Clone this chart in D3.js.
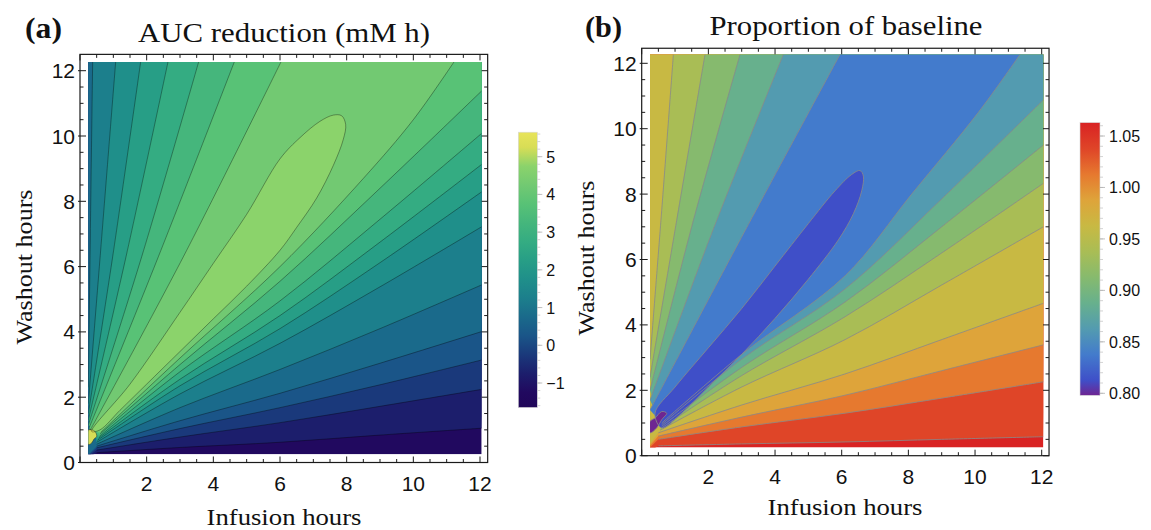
<!DOCTYPE html>
<html><head><meta charset="utf-8">
<script src="https://cdn.jsdelivr.net/npm/d3@7"></script>
<style>body{margin:0;background:#fff;}svg{display:block}</style>
</head><body><svg id="chart" width="1151" height="530"></svg>
<script>
// ================= DATA =================
const xTickValues = [2, 4, 6, 8, 10, 12];
const yTickValues = [0, 2, 4, 6, 8, 10, 12];
const dataExtentX = [0.25, 12.05];
const dataExtentY = [0.25, 12.27];

// ---- Panel (a): AUC reduction (mM h), contour spacing 0.5 ----
const legendTicksA = [-1, 0, 1, 2, 3, 4, 5];
const legendRangeA = [-1.65, 5.65];
const baseLevelA = -1.5;
const lowerLevelsA = [-1, -0.5, 0, 0.5, 1, 1.5, 2, 2.5, 3, 3.5, 4];
const lowerLinesA = [
  [[0.5,0.30],[3,0.46],[6,0.62],[9,0.84],[12.05,1.05]],
  [[0.5,0.38],[3,0.78],[6,1.22],[9,1.72],[12.05,2.24]],
  [[0.5,0.45],[3,1.04],[6,1.68],[9,2.38],[12.05,3.14]],
  [[0.5,0.50],[3,1.28],[6,2.12],[9,3.04],[12.05,4.01]],
  [[0.5,0.56],[3,1.68],[6,2.85],[9,4.10],[12.05,5.44]],
  [[0.5,0.62],[3,2.10],[6,3.65],[9,5.38],[12.05,7.22]],
  [[0.52,0.68],[3,2.35],[6,4.10],[9,6.12],[12.05,8.29]],
  [[0.55,0.74],[3,2.55],[6,4.50],[9,6.75],[12.05,9.13]],
  [[0.58,0.80],[3,2.78],[6,4.95],[9,7.45],[12.05,10.08]],
  [[0.60,0.87],[3,3.00],[6,5.55],[9,8.40],[12.05,11.38]],
  [[0.62,0.92],[3,3.20],[6,6.00],[8.5,8.70],[10,10.50],[11.22,12.27]]
];
const upperLevelsA = [1, 1.5, 2, 2.5, 3, 3.5, 4];
const upperLinesA = [
  [[0.25,2.30],[0.31,7.0],[0.38,12.27]],
  [[0.25,1.80],[0.62,6.5],[1.07,12.27]],
  [[0.25,1.50],[0.98,6.3],[1.82,12.27]],
  [[0.25,1.30],[1.38,6.3],[2.64,12.27]],
  [[0.25,1.15],[1.85,6.3],[3.56,12.27]],
  [[0.27,1.05],[2.35,6.3],[4.63,12.27]],
  [[0.30,0.98],[3.10,6.3],[6.03,12.27]]
];
const islandLevelA = 4.5;
const islandA = [[0.35,0.95],[1.5,2.4],[3,4.6],[4,6.1],[5,7.6],[6,9.3],[6.6,9.95],[7.2,10.45],[7.6,10.64],
  [7.85,10.62],[7.97,10.35],[7.9,9.9],[7.6,9.1],[7.1,8.1],[6.5,7.2],[6,6.5],[5,5.4],[4,4.4],[3,3.4],[2,2.4],[1.2,1.6],[0.6,1.0]];
const peakLevelA = 5;
const peakA = [[0.25,0.55],[0.35,0.6],[0.42,0.72],[0.5,0.8],[0.45,0.95],[0.35,1.0],[0.25,1.0]];

// ---- Panel (b): proportion of baseline, contour spacing 0.025 ----
const legendTicksB = [0.80, 0.85, 0.90, 0.95, 1.00, 1.05];
const legendRangeB = [0.798, 1.063];
const baseLevelB = 1.075;
const lowerLevelsB = [1.05, 1.025, 1.0, 0.975, 0.95, 0.925, 0.9, 0.875, 0.85];
const lowerLinesB = [
  [[0.5,0.30],[3,0.36],[6.1,0.42],[9,0.50],[12.05,0.58]],
  [[0.5,0.50],[3,0.88],[6.1,1.30],[9,1.76],[12.05,2.26]],
  [[0.5,0.60],[3,1.18],[6.1,1.85],[9,2.60],[12.05,3.39]],
  [[0.5,0.70],[3,1.55],[6.1,2.50],[9,3.55],[12.05,4.66]],
  [[0.55,0.78],[3,2.10],[6.1,3.55],[9,5.22],[12.05,7.00]],
  [[0.6,0.85],[3,2.45],[6.1,4.25],[9,6.20],[12.05,8.33]],
  [[0.6,0.90],[3,2.70],[6.1,4.70],[9,7.00],[12.05,9.50]],
  [[0.6,0.95],[3,2.95],[6.1,5.10],[9,7.85],[12.05,10.88]],
  [[0.6,1.00],[3,3.10],[6.1,5.50],[8.1,8.0],[10.1,10.5],[11.35,12.27]]
];
const upperLevelsB = [0.95, 0.925, 0.9, 0.875, 0.85];
const upperLinesB = [
  [[0.25,2.95],[0.6,7.5],[0.95,12.27]],
  [[0.25,2.40],[1.05,7.2],[1.90,12.27]],
  [[0.25,2.00],[1.5,7.0],[2.95,12.27]],
  [[0.25,1.70],[2.1,6.8],[4.25,12.27]],
  [[0.25,1.40],[2.9,6.5],[5.95,12.27]]
];
const islandLevelB = 0.825;
const islandB = [[0.4,1.3],[1.0,2.1],[2.0,3.3],[3.0,4.5],[4.0,5.8],[5.0,7.1],[5.8,8.1],[6.3,8.6],[6.55,8.72],
  [6.65,8.55],[6.6,8.1],[6.35,7.4],[5.9,6.6],[5.0,5.4],[4.0,4.2],[3.0,3.1],[2.0,2.1],[1.2,1.3],[0.6,0.85]];
const pitLevelB = 0.8;
const pitB = [[0.25,0.7],[0.45,0.85],[0.6,1.1],[0.75,1.3],[0.6,1.35],[0.4,1.15],[0.25,1.05]];

// ================= STYLES =================
const colorStopsA = [[-1.65,"#200658"],[-1.25,"#21095f"],[-0.75,"#1c1e6c"],[-0.25,"#1a397b"],[0.25,"#1a5588"],
  [0.75,"#1a6a8b"],[1.25,"#1c7f8c"],[1.75,"#1f8f8a"],[2.25,"#279e86"],[2.75,"#34ac82"],[3.25,"#45b67c"],
  [3.75,"#58c276"],[4.25,"#72c972"],[4.75,"#8bd36b"],[5.25,"#d8dd56"],[5.65,"#e8e45a"]];
const colorStopsB = [[0.798,"#6e2592"],[0.8125,"#3f4fc8"],[0.8375,"#437bcc"],[0.8625,"#539bb0"],[0.8875,"#67b08d"],
  [0.9125,"#86ba6e"],[0.9375,"#a9bd55"],[0.9625,"#c8b943"],[0.9875,"#dea43a"],[1.0125,"#e6792f"],
  [1.0375,"#df4528"],[1.0625,"#d92323"]];
const colorA = d3.scaleLinear().domain(colorStopsA.map(d=>d[0])).range(colorStopsA.map(d=>d[1])).clamp(true);
const colorB = d3.scaleLinear().domain(colorStopsB.map(d=>d[0])).range(colorStopsB.map(d=>d[1])).clamp(true);

const svg = d3.select("#chart");
const defs = svg.append("defs");
const SANS = "Liberation Sans, Arial, sans-serif";
const SERIF = "Liberation Serif, Times New Roman, serif";

function drawPanel(P) {
  const {id, x, y, frame, bandColor, baseColor, lowerLevels, lowerLines, upperLevels, upperLines,
         island, islandColor, spot, spotColor, lineStroke, lineOpacity} = P;
  const [X0, X1] = dataExtentX, [Y0, Y1] = dataExtentY;
  const g = svg.append("g");
  defs.append("clipPath").attr("id", "clip" + id).append("rect")
    .attr("x", x(X0)).attr("y", y(Y1)).attr("width", x(X1) - x(X0)).attr("height", y(Y0) - y(Y1));
  const gen = d3.line().x(d => x(d[0])).y(d => y(d[1])).curve(d3.curveCatmullRom.alpha(0.5));
  const genClosed = d3.line().x(d => x(d[0])).y(d => y(d[1])).curve(d3.curveCatmullRomClosed.alpha(0.5));
  const body = g.append("g").attr("clip-path", `url(#clip${id})`);
  body.append("rect").attr("x", x(X0)).attr("y", y(Y1)).attr("width", x(X1) - x(X0))
    .attr("height", y(Y0) - y(Y1)).attr("fill", baseColor);
  lowerLevels.forEach((lev, i) => {
    const low = lowerLines[i];
    const ui = upperLevels.indexOf(lev);
    const up = ui >= 0 ? upperLines[ui] : null;
    let d = gen(low);
    const end = low[low.length - 1];
    const pts = [];
    if (end[0] >= X1 - 1e-6) pts.push([X1 + 0.3, Y1 + 0.3]);
    if (!up) pts.push([X0 - 0.3, Y1 + 0.3], [X0 - 0.3, Y0 - 0.3]);
    pts.forEach(c => d += `L${x(c[0])},${y(c[1])}`);
    if (up) d += "L" + gen(up.slice().reverse()).slice(1);
    d += "Z";
    body.append("path").attr("d", d).attr("fill", bandColor(lev));
  });
  body.append("path").attr("d", genClosed(island)).attr("fill", islandColor);
  body.append("path").attr("d", genClosed(spot)).attr("fill", spotColor);
  const lines = body.append("g").attr("fill", "none").attr("stroke", lineStroke)
    .attr("stroke-opacity", lineOpacity).attr("stroke-width", 0.9);
  lowerLines.concat(upperLines).forEach(l => lines.append("path").attr("d", gen(l)));
  lines.append("path").attr("d", genClosed(island));
  lines.append("path").attr("d", genClosed(spot));

  // frame
  const [fx1, fy1] = frame;
  g.append("rect").attr("x", x(0)).attr("y", y(fy1)).attr("width", x(fx1) - x(0)).attr("height", y(0) - y(fy1))
    .attr("fill", "none").attr("stroke", "#1a1a1a").attr("stroke-width", 1.2);
  const minorX = d3.range(0.5, 12.01, 0.5).filter(v => v % 2 !== 0);
  const minorY = d3.range(0.5, 12.01, 0.5).filter(v => v % 2 !== 0);
  const tk = g.append("g").attr("stroke", "#1a1a1a").attr("stroke-width", 1);
  xTickValues.concat([0]).forEach(v => {
    tk.append("line").attr("x1", x(v)).attr("x2", x(v)).attr("y1", y(0)).attr("y2", y(0) - 6);
    tk.append("line").attr("x1", x(v)).attr("x2", x(v)).attr("y1", y(fy1)).attr("y2", y(fy1) + 6);
  });
  minorX.forEach(v => {
    tk.append("line").attr("x1", x(v)).attr("x2", x(v)).attr("y1", y(0)).attr("y2", y(0) - 3.5);
    tk.append("line").attr("x1", x(v)).attr("x2", x(v)).attr("y1", y(fy1)).attr("y2", y(fy1) + 3.5);
  });
  yTickValues.forEach(v => {
    tk.append("line").attr("x1", x(0) - 2).attr("x2", x(0) + 6).attr("y1", y(v)).attr("y2", y(v));
    tk.append("line").attr("x1", x(fx1)).attr("x2", x(fx1) - 6).attr("y1", y(v)).attr("y2", y(v));
  });
  minorY.forEach(v => {
    tk.append("line").attr("x1", x(0)).attr("x2", x(0) + 3.5).attr("y1", y(v)).attr("y2", y(v));
    tk.append("line").attr("x1", x(fx1)).attr("x2", x(fx1) - 3.5).attr("y1", y(v)).attr("y2", y(v));
  });
  g.append("g").selectAll("text").data(xTickValues).join("text")
    .attr("x", d => x(d)).attr("y", y(0) + 28).attr("text-anchor", "middle")
    .attr("font-family", SANS).attr("font-size", 21).attr("fill", "#111").text(d => d);
  g.append("g").selectAll("text").data(yTickValues).join("text")
    .attr("x", x(0) - 5).attr("y", d => y(d) + 7.5).attr("text-anchor", "end")
    .attr("font-family", SANS).attr("font-size", 21).attr("fill", "#111").text(d => d);
  return g;
}

// ----- scales -----
const xA = d3.scaleLinear([0, 12], [80, 480]);
const yA = d3.scaleLinear([0, 12], [462.5, 70.7]);
const xB = d3.scaleLinear([0, 12], [641.7, 1041.7]);
const yB = d3.scaleLinear([0, 12], [455.7, 63.3]);

drawPanel({id: "A", x: xA, y: yA, frame: [12.23, 12.5],
  bandColor: l => colorA(l + 0.25), baseColor: colorA(baseLevelA + 0.25),
  lowerLevels: lowerLevelsA, lowerLines: lowerLinesA, upperLevels: upperLevelsA, upperLines: upperLinesA,
  island: islandA, islandColor: colorA(islandLevelA + 0.25), spot: peakA, spotColor: colorA(peakLevelA + 0.25),
  lineStroke: "#000", lineOpacity: 0.38});
drawPanel({id: "B", x: xB, y: yB, frame: [12.22, 12.46],
  bandColor: l => colorB(l - 0.0125), baseColor: colorB(baseLevelB - 0.0125),
  lowerLevels: lowerLevelsB, lowerLines: lowerLinesB, upperLevels: upperLevelsB, upperLines: upperLinesB,
  island: islandB, islandColor: colorB(islandLevelB - 0.0125), spot: pitB, spotColor: colorB(pitLevelB - 0.0125),
  lineStroke: "#8a8a8a", lineOpacity: 0.9});

// ----- legends -----
function legend(id, x0, w, scale, domain, stops, ticks, fmt, minorStep) {
  const grad = defs.append("linearGradient").attr("id", "grad" + id)
    .attr("gradientUnits", "userSpaceOnUse").attr("x1", 0).attr("x2", 0)
    .attr("y1", scale(domain[0])).attr("y2", scale(domain[1]));
  stops.forEach(s => grad.append("stop")
    .attr("offset", (s[0] - domain[0]) / (domain[1] - domain[0])).attr("stop-color", s[1]));
  svg.append("rect").attr("x", x0).attr("y", scale(domain[1])).attr("width", w)
    .attr("height", scale(domain[0]) - scale(domain[1])).attr("fill", `url(#grad${id})`)
    .attr("stroke", "#d8d8d8").attr("stroke-width", 0.6);
  const minors = d3.range(Math.ceil(domain[0] / minorStep) * minorStep, domain[1], minorStep);
  svg.append("g").selectAll("line").data(minors).join("line")
    .attr("x1", x0 + w).attr("x2", x0 + w + 3).attr("y1", d => scale(d)).attr("y2", d => scale(d))
    .attr("stroke", "#c8c8c8").attr("stroke-width", 0.8);
  svg.append("g").selectAll("line").data(ticks).join("line")
    .attr("x1", x0 + w).attr("x2", x0 + w + 5).attr("y1", d => scale(d)).attr("y2", d => scale(d))
    .attr("stroke", "#b0b0b0").attr("stroke-width", 0.8);
  svg.append("g").selectAll("text").data(ticks).join("text")
    .attr("x", x0 + w + 9).attr("y", d => scale(d) + 6).attr("font-family", SANS).attr("font-size", 16)
    .attr("fill", "#111").text(fmt);
}
const cbA = d3.scaleLinear([-1, 5], [383, 156.7]);
const cbB = d3.scaleLinear([0.80, 1.05], [393.3, 136]);
legend("A", 518.3, 19, cbA, legendRangeA, colorStopsA, legendTicksA, d => d < 0 ? "\u2212" + Math.abs(d) : d, 0.2);
legend("B", 1080, 20, cbB, legendRangeB, colorStopsB, legendTicksB, d3.format(".2f"), 0.01);

// ----- titles and axis labels -----
function txt(s, x, y, size, opts = {}) {
  const t = svg.append("text").attr("x", x).attr("y", y).attr("font-family", SERIF).attr("font-size", size)
    .attr("fill", "#111").attr("text-anchor", opts.anchor || "middle").text(s);
  if (opts.bold) t.attr("font-weight", "bold");
  if (opts.len) t.attr("textLength", opts.len).attr("lengthAdjust", "spacingAndGlyphs");
  if (opts.rot) t.attr("transform", `rotate(-90 ${x} ${y})`);
  return t;
}
txt("(a)", 25, 38, 29, {anchor: "start", bold: true, len: 37});
txt("(b)", 585, 37, 29, {anchor: "start", bold: true, len: 37});
txt("AUC reduction (mM h)", 284, 41.5, 27, {len: 292});
txt("Proportion of baseline", 846, 35, 27, {len: 273});
txt("Infusion hours", 284, 525, 23, {len: 155});
txt("Infusion hours", 845, 515, 23, {len: 155});
txt("Washout hours", 32, 267, 23, {len: 155, rot: true});
txt("Washout hours", 594, 258, 23, {len: 155, rot: true});
</script></body></html>
